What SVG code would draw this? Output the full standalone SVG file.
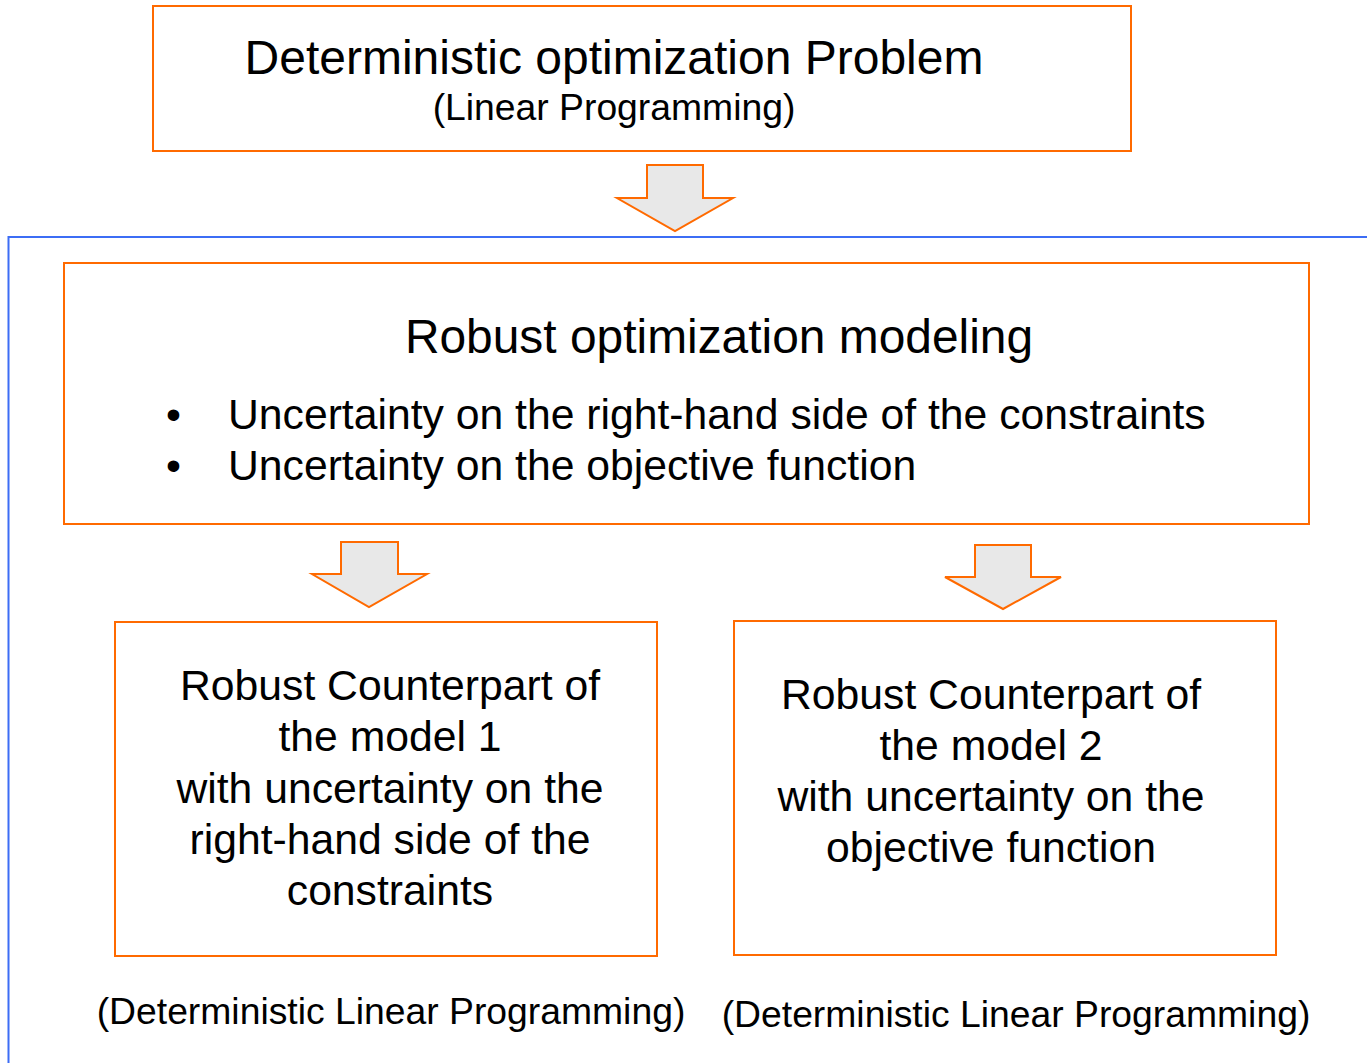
<svg xmlns="http://www.w3.org/2000/svg" width="1367" height="1063" viewBox="0 0 1367 1063">
<style>
.box{fill:#fff;stroke:#FF6A00;stroke-width:2}
.arr{fill:#E8E8E8;stroke:#FF6A00;stroke-width:2;stroke-linejoin:miter}
text{font-family:"Liberation Sans",Arial,sans-serif;fill:#000}
.c{text-anchor:middle}
.b{font-size:42.7px}
.s{font-size:37.3px}
</style>
<rect width="1367" height="1063" fill="#fff"/>
<g id="frame"><path d="M1367,237 H8.5 V1063" fill="none" stroke="#3C6DF5" stroke-width="2"/></g>
<g id="node-top">
<rect class="box" x="153" y="6" width="978" height="145"/>
<text class="c" x="614" y="74" font-size="48">Deterministic optimization Problem</text>
<text class="c s" x="614" y="120">(Linear Programming)</text>
</g>
<g id="node-robust">
<rect class="box" x="64" y="263" width="1245" height="261"/>
<text class="c" x="719" y="353" font-size="47.9">Robust optimization modeling</text>
<text class="b" x="166" y="429">•</text>
<text class="b" x="228" y="429">Uncertainty on the right-hand side of the constraints</text>
<text class="b" x="166" y="480">•</text>
<text class="b" x="228" y="480">Uncertainty on the objective function</text>
</g>
<g id="node-model1">
<rect class="box" x="115" y="622" width="542" height="334"/>
<text class="c b"><tspan x="390" y="700">Robust Counterpart of</tspan><tspan x="390" y="751">the model 1</tspan><tspan x="390" y="803">with uncertainty on the</tspan><tspan x="390" y="854">right-hand side of the</tspan><tspan x="390" y="905">constraints</tspan></text>
</g>
<g id="node-model2">
<rect class="box" x="734" y="621" width="542" height="334"/>
<text class="c b"><tspan x="991" y="709">Robust Counterpart of</tspan><tspan x="991" y="760">the model 2</tspan><tspan x="991" y="811">with uncertainty on the</tspan><tspan x="991" y="862">objective function</tspan></text>
</g>
<g id="label-left"><text class="c s" x="391" y="1024">(Deterministic Linear Programming)</text></g>
<g id="label-right"><text class="c s" x="1016" y="1027">(Deterministic Linear Programming)</text></g>
<g id="connectors">
<polygon class="arr" points="647,165 703,165 703,198 733,198 675,231 617,198 647,198"/>
<polygon class="arr" points="341,542 398,542 398,574 427,574 369,607 312,574 341,574"/>
<polygon class="arr" points="975,545 1031,545 1031,577 1061,577 1003,609 945,577 975,577"/>
</g>
</svg>
